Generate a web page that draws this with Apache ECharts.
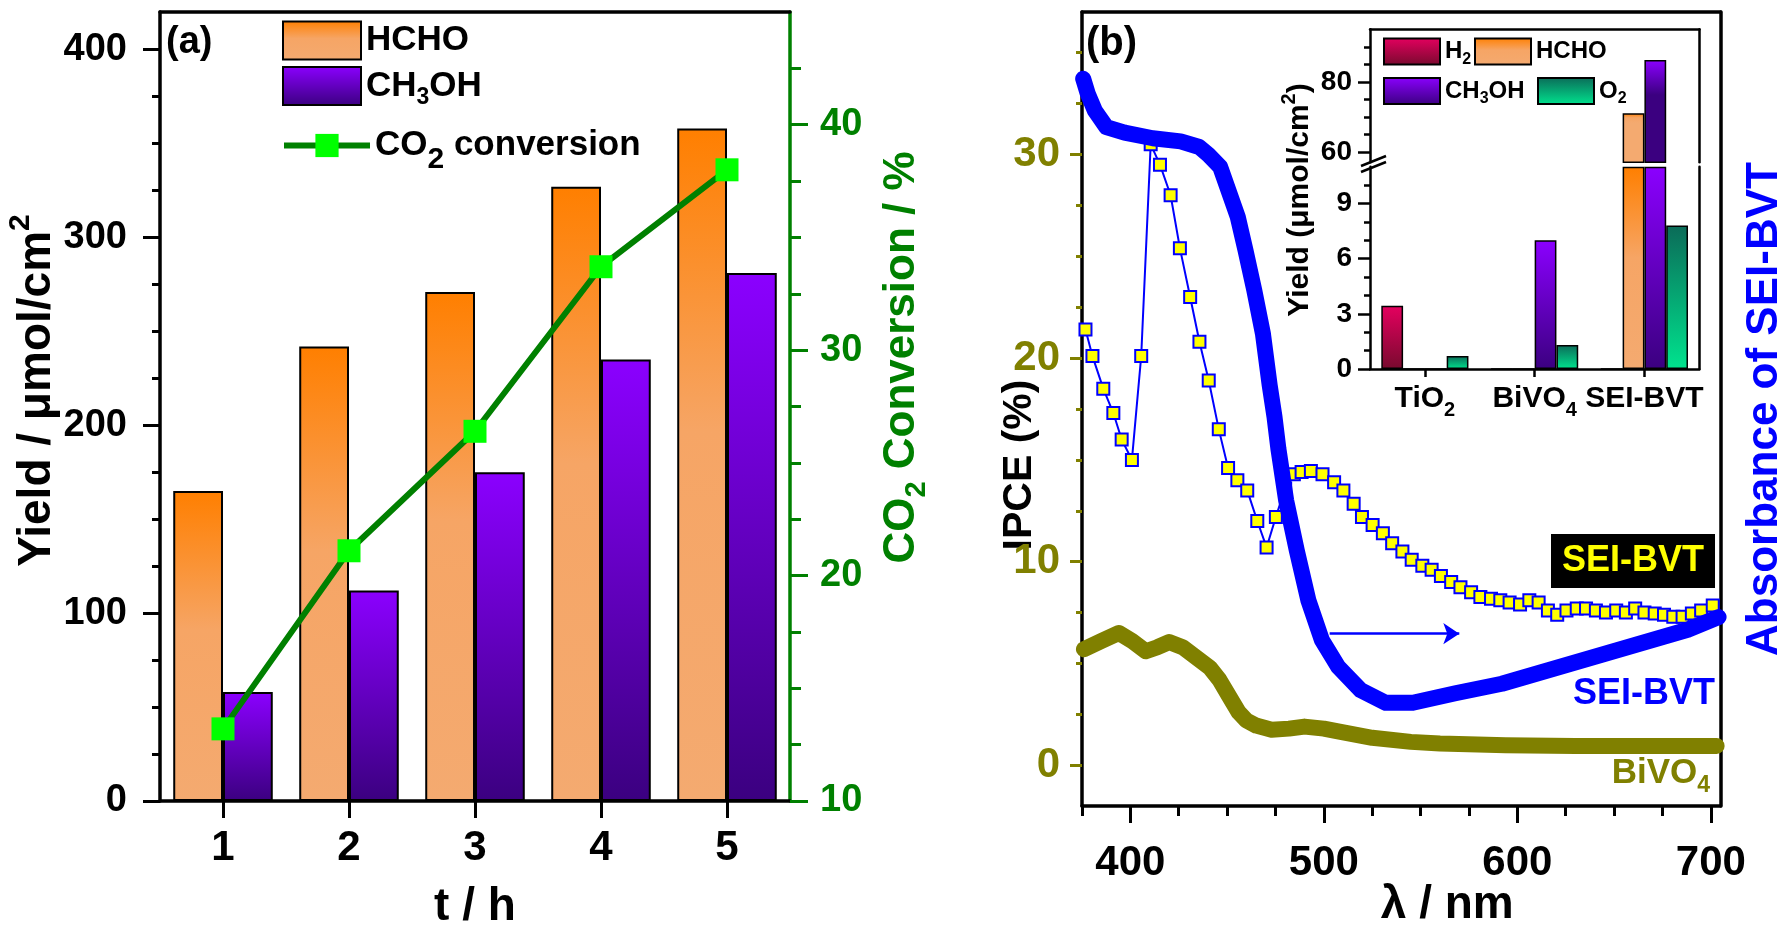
<!DOCTYPE html>
<html lang="en" style="height: 100%">
<head>
  <meta charset="utf-8">
</head>
<body style="height: 100%; margin: 0; background: #fff">
  <div id="container" style="width: 1788px; height: 928px"></div>
  <script type="text/javascript" src="https://fastly.jsdelivr.net/npm/echarts@6/dist/echarts.min.js"></script>
  <script type="text/javascript">
    // ---- panel (a) ----
    var hours = ['1', '2', '3', '4', '5'];
    var hchoYield = [165, 242, 271, 327, 358];
    var ch3ohYield = [58, 112, 175, 235, 281];
    var co2Conversion = [13.2, 21.1, 26.4, 33.7, 38.0];
    var yieldTicks = [0, 100, 200, 300, 400];
    var yieldMinor = [25, 50, 75, 125, 150, 175, 225, 250, 275, 325, 350, 375];
    var convTicks = [10, 20, 30, 40];
    var convMinor = [12.5, 15, 17.5, 22.5, 25, 27.5, 32.5, 35, 37.5, 42.5];

    // ---- panel (b) ----
    var ipceSEI = [
      [376.8, 21.4], [380.4, 20.1], [386, 18.5], [391.2, 17.3], [395.5, 16.0], [400.8, 15.0],
      [405.6, 20.1], [410.5, 30.5], [415.3, 29.5], [420.8, 28.0], [425.6, 25.4], [430.9, 23.0],
      [435.7, 20.8], [440.5, 18.9], [445.7, 16.5], [450.5, 14.6], [455.3, 14.0], [460.4, 13.5],
      [465.6, 12.0], [470.4, 10.7], [475.2, 12.2], [480, 13.6], [484.5, 14.3], [488.5, 14.4],
      [493.3, 14.45], [499.3, 14.3], [505.3, 13.9], [510.1, 13.5], [515.4, 12.85], [519.7, 12.2],
      [525.2, 11.8], [530.5, 11.4], [535.3, 10.9], [540.6, 10.5], [545.4, 10.1], [550.9, 9.8],
      [555.7, 9.6], [560.5, 9.3], [565.8, 9.0], [570.6, 8.75], [576.1, 8.5], [580.9, 8.26],
      [586.4, 8.18], [591.2, 8.1], [596, 8.0], [601.4, 7.9], [606.2, 8.1], [611, 8.0],
      [615.8, 7.6], [620.6, 7.4], [625.4, 7.6], [630.7, 7.7], [635.5, 7.7], [640.6, 7.6],
      [645.8, 7.5], [651.1, 7.6], [656.1, 7.5], [660.9, 7.7], [665.7, 7.5], [671, 7.45],
      [675.8, 7.4], [680.6, 7.3], [685.4, 7.3], [690.2, 7.45], [695, 7.6], [701, 7.85]
    ];
    var ipceBiVO4 = [
      [376, 5.7], [385, 6.1], [394, 6.5], [401, 6.1], [408, 5.6], [414, 5.8], [420, 6.05],
      [427, 5.8], [434, 5.3], [441, 4.8], [446, 4.2], [451, 3.4], [456, 2.6], [460, 2.2],
      [465, 1.95], [473, 1.75], [482, 1.8], [490, 1.9], [500, 1.8], [508, 1.65], [525, 1.35],
      [545, 1.15], [560, 1.07], [594, 0.98], [630, 0.95], [660, 0.95], [690, 0.95], [703, 0.95]
    ];
    var absSEI = [
      [375.6, 0.916], [378, 0.897], [381.6, 0.876], [387.6, 0.855], [397, 0.848], [411.6, 0.841],
      [426, 0.837], [435.6, 0.83], [440.4, 0.82], [446.4, 0.805], [450, 0.78], [455.5, 0.742],
      [459.5, 0.70], [464, 0.65], [468.5, 0.595], [472, 0.53], [474.5, 0.49], [476.5, 0.45],
      [480.5, 0.385], [486, 0.322], [492, 0.259], [499, 0.209], [507.5, 0.175], [519, 0.146],
      [532, 0.13], [546, 0.13], [568, 0.142], [592, 0.154], [616, 0.171], [640, 0.188],
      [664, 0.205], [688, 0.222], [704, 0.238]
    ];
    var arrowNm = [503, 570];
    var arrowAbs = 0.217;
    var nmTicks = [400, 500, 600, 700];
    var nmMinor = [375, 425, 450, 475, 525, 550, 575, 625, 650, 675];
    var ipceTicks = [0, 10, 20, 30];
    var ipceMinor = [2.5, 5, 7.5, 12.5, 15, 17.5, 22.5, 25, 27.5, 32.5, 35];

    // ---- inset ----
    var insetCats = ['TiO2', 'BiVO4', 'SEI-BVT'];
    var insetH2 = [3.44, 0, 0];
    var insetHCHO = [0, 0, 71];
    var insetCH3OH = [0, 7.0, 86.2];
    var insetO2 = [0.71, 1.31, 7.8];
    var insetLowTicks = [0, 3, 6, 9];
    var insetLowMinor = [1, 2, 4, 5, 7, 8, 10];
    var insetHighTicks = [60, 80];
    var insetHighMinor = [65, 70, 75, 85, 90];
    var insetLow = [0, 11];
    var insetHigh = [57, 95];

    var FF = '"Liberation Sans", Arial, sans-serif';
    var OLIVE = '#808000', BLUE = '#0000FF', GREEN = '#008000';

    var hchoStops = [[0, '#FF7F00'], [0.45, '#F6A565'], [1, '#F4AA70']];
    var ch3ohStops = [[0, '#8B00FF'], [1, '#3B0080']];
    var h2Stops = [[0, '#E5005F'], [1, '#780A2E']];
    var o2Stops = [[0, '#0B6B58'], [1, '#00E38E']];

    function vgrad(stops) {
      return new echarts.graphic.LinearGradient(0, 0, 0, 1, stops.map(function (s) {
        return { offset: s[0], color: s[1] };
      }));
    }
    // gradient squeezed into the part of the bar that shows above the axis break
    function clipGrad(stops, v, lo) {
      var f = v > lo ? (v - lo) / v : 1;
      return vgrad(stops.map(function (s) { return [s[0] * f, s[1]]; }));
    }

    function rich(size, color, subScale, subDrop, zr) {
      var fs2 = Math.round(size * subScale);
      var L = fs2 + 2 * Math.round(size * subDrop);
      function st(o) {
        o.fontFamily = FF; o.fontWeight = 'bold';
        if (zr) o.fill = color; else o.color = color;
        return o;
      }
      return {
        n: st({ fontSize: size, lineHeight: L, verticalAlign: 'middle' }),
        sub: st({ fontSize: fs2, lineHeight: fs2, verticalAlign: 'bottom' }),
        sup: st({ fontSize: fs2, lineHeight: fs2, verticalAlign: 'top' })
      };
    }

    var legendLabel = {
      'HCHO': '{n|HCHO}',
      'CH3OH': '{n|CH}{sub|3}{n|OH}',
      'CO2 conversion': '{n|CO}{sub|2}{n| conversion}',
      'H2': '{n|H}{sub|2}',
      'HCHO (inset)': '{n|HCHO}',
      'CH3OH (inset)': '{n|CH}{sub|3}{n|OH}',
      'O2': '{n|O}{sub|2}'
    };
    var insetLabel = { 'TiO2': '{n|TiO}{sub|2}', 'BiVO4': '{n|BiVO}{sub|4}', 'SEI-BVT': '{n|SEI-BVT}' };

    function legendItem(name, left, top, w, h, r, isBar) {
      var o = {
        data: [isBar ? { name: name, icon: 'rect' } : name],
        left: left, top: top, itemWidth: w, itemHeight: h, padding: 0,
        selectedMode: false,
        formatter: function (n) { return legendLabel[n]; },
        textStyle: { rich: r }
      };
      if (isBar) o.itemStyle = { borderColor: '#000', borderWidth: 2 };
      else o.lineStyle = { width: 6, color: GREEN };
      return o;
    }

    function lbl(size, color, margin) {
      return { show: true, fontSize: size, fontWeight: 'bold', fontFamily: FF, color: color, margin: margin };
    }
    function lineOnly(color, w) {
      return { show: true, onZero: false, lineStyle: { color: color, width: w } };
    }
    function ticks(len, values, color, w) {
      return { show: true, inside: false, length: len, customValues: values, lineStyle: { width: w, color: color } };
    }
    var noLine = { show: false, onZero: false };
    var off = { show: false };

    var dom = document.getElementById('container');
    var myChart = echarts.init(dom, null, { renderer: 'canvas' });

    var option = {
      animation: false,
      backgroundColor: '#fff',
      textStyle: { fontFamily: FF },
      grid: [
        { left: 160, top: 12, width: 630, height: 789, outerBoundsMode: 'none' },
        { left: 1082, top: 12, width: 638.5, height: 794, outerBoundsMode: 'none' },
        { left: 1370, top: 166.7, width: 329.3, height: 202.3, outerBoundsMode: 'none' },
        { left: 1370, top: 29.3, width: 329.3, height: 133, outerBoundsMode: 'none' }
      ],
      legend: [
        legendItem('HCHO', 282, 20.5, 78, 38, rich(35, '#000', 0.65, 0.35), true),
        legendItem('CH3OH', 282, 66, 78, 38, rich(35, '#000', 0.65, 0.35), true),
        legendItem('CO2 conversion', 281, 128, 86, 29, rich(35, '#000', 0.86, 0.4), false),
        legendItem('H2', 1383, 37.5, 56, 26, rich(24, '#000', 0.65, 0.35), true),
        legendItem('HCHO (inset)', 1474, 37.5, 56, 26, rich(24, '#000', 0.65, 0.35), true),
        legendItem('CH3OH (inset)', 1383, 77, 56, 26, rich(24, '#000', 0.65, 0.35), true),
        legendItem('O2', 1537, 77, 56, 26, rich(24, '#000', 0.65, 0.35), true)
      ],
      xAxis: [
        { // 0: panel a bottom
          gridIndex: 0, type: 'category', data: hours, position: 'bottom',
          axisLine: lineOnly('#000', 3.5),
          axisTick: { show: true, inside: false, alignWithLabel: true, length: 17, lineStyle: { width: 3, color: '#000' } },
          axisLabel: lbl(42, '#000', 26),
          name: 't / h', nameLocation: 'middle', nameGap: 83, nameMoveOverlap: false,
          nameTextStyle: { fontSize: 46, fontWeight: 'bold', fontFamily: FF, color: '#000' }
        },
        { // 1: panel a top border
          gridIndex: 0, type: 'category', data: hours, position: 'top',
          axisLine: lineOnly('#000', 3.5), axisTick: off, axisLabel: off
        },
        { // 2: panel b bottom
          gridIndex: 1, type: 'value', min: 375, max: 705, position: 'bottom',
          axisLine: lineOnly('#000', 3.5),
          axisTick: ticks(17, nmTicks, '#000', 3),
          axisLabel: Object.assign({ customValues: nmTicks }, lbl(42, '#000', 36)),
          splitLine: off,
          name: 'λ / nm', nameLocation: 'middle', nameGap: 76, nameMoveOverlap: false,
          nameTextStyle: { fontSize: 46, fontWeight: 'bold', fontFamily: FF, color: '#000', padding: [0, 0, 0, 92] }
        },
        { // 3: panel b minor ticks
          gridIndex: 1, type: 'value', min: 375, max: 705, position: 'bottom',
          axisLine: noLine, axisTick: ticks(10, nmMinor, '#000', 3),
          axisLabel: off, splitLine: off
        },
        { // 4: panel b top border
          gridIndex: 1, type: 'value', min: 375, max: 705, position: 'top',
          axisLine: lineOnly('#000', 3.5), axisTick: off, axisLabel: off, splitLine: off
        },
        { // 5: inset bottom
          gridIndex: 2, type: 'category', data: insetCats, position: 'bottom',
          axisLine: lineOnly('#000', 2.5),
          axisTick: { show: true, inside: false, alignWithLabel: true, length: 8, lineStyle: { width: 2.5, color: '#000' } },
          axisLabel: {
            show: true, margin: 9,
            formatter: function (v) { return insetLabel[v]; },
            rich: rich(30, '#000', 0.65, 0.35)
          }
        },
        { // 6: inset top
          gridIndex: 3, type: 'category', data: insetCats, position: 'top',
          axisLine: lineOnly('#000', 2.5), axisTick: off, axisLabel: off
        }
      ],
      yAxis: [
        { // 0: yield
          gridIndex: 0, type: 'value', min: 0, max: 420, position: 'left',
          axisLine: lineOnly('#000', 3.5),
          axisTick: ticks(17, yieldTicks, '#000', 3),
          axisLabel: Object.assign({ customValues: yieldTicks }, lbl(38, '#000', 33)),
          splitLine: off,
          name: '{n|Yield / μmol/cm}{sup|2}', nameLocation: 'middle', nameRotate: 90, nameGap: 92,
          nameMoveOverlap: false,
          nameTextStyle: { rich: rich(46, '#000', 0.65, 0.35), padding: [0, 0, 0, 32] }
        },
        { // 1: CO2 conversion
          gridIndex: 0, type: 'value', min: 10, max: 45, position: 'right',
          axisLine: lineOnly(GREEN, 3.5),
          axisTick: ticks(18, convTicks, GREEN, 3),
          axisLabel: Object.assign({ customValues: convTicks }, lbl(38, GREEN, 30)),
          splitLine: off,
          name: '{n|CO}{sub|2}{n| Conversion / %}', nameLocation: 'middle', nameRotate: 90, nameGap: 82,
          nameMoveOverlap: false,
          nameTextStyle: { rich: rich(44, GREEN, 0.65, 0.35), padding: [0, 0, 0, 98] }
        },
        { // 2: yield minor
          gridIndex: 0, type: 'value', min: 0, max: 420, position: 'left',
          axisLine: noLine, axisTick: ticks(8, yieldMinor, '#000', 3),
          axisLabel: off, splitLine: off
        },
        { // 3: conversion minor
          gridIndex: 0, type: 'value', min: 10, max: 45, position: 'right',
          axisLine: noLine, axisTick: ticks(11, convMinor, GREEN, 3),
          axisLabel: off, splitLine: off
        },
        { // 4: IPCE
          gridIndex: 1, type: 'value', min: -2, max: 37, position: 'left',
          axisLine: lineOnly('#000', 3.5),
          axisTick: ticks(12, ipceTicks, OLIVE, 3),
          axisLabel: Object.assign({ customValues: ipceTicks }, lbl(42, OLIVE, 22)),
          splitLine: off,
          name: 'IPCE (%)', nameLocation: 'middle', nameRotate: 90, nameGap: 42, nameMoveOverlap: false,
          nameTextStyle: { fontSize: 41, fontWeight: 'bold', fontFamily: FF, color: '#000', padding: [0, 112, 0, 0] }
        },
        { // 5: IPCE minor
          gridIndex: 1, type: 'value', min: -2, max: 37, position: 'left',
          axisLine: noLine, axisTick: ticks(6, ipceMinor, OLIVE, 3),
          axisLabel: off, splitLine: off
        },
        { // 6: absorbance
          gridIndex: 1, type: 'value', min: 0, max: 1, position: 'right',
          axisLine: lineOnly('#000', 3.5), axisTick: off, axisLabel: off, splitLine: off,
          name: 'Absorbance of SEI-BVT', nameLocation: 'middle', nameRotate: 90, nameGap: 22,
          nameMoveOverlap: false,
          nameTextStyle: { fontSize: 44, fontWeight: 'bold', fontFamily: FF, color: BLUE }
        },
        { // 7: inset lower
          gridIndex: 2, type: 'value', min: insetLow[0], max: insetLow[1], position: 'left',
          axisLine: lineOnly('#000', 2.5),
          axisTick: ticks(12, insetLowTicks, '#000', 2.5),
          axisLabel: Object.assign({ customValues: insetLowTicks }, lbl(28, '#000', 18)),
          splitLine: off
        },
        { // 8: inset lower minor
          gridIndex: 2, type: 'value', min: insetLow[0], max: insetLow[1], position: 'left',
          axisLine: noLine, axisTick: ticks(6, insetLowMinor, '#000', 2.5),
          axisLabel: off, splitLine: off
        },
        { // 9: inset lower right border
          gridIndex: 2, type: 'value', min: insetLow[0], max: insetLow[1], position: 'right',
          axisLine: lineOnly('#000', 2.5), axisTick: off, axisLabel: off, splitLine: off
        },
        { // 10: inset upper
          gridIndex: 3, type: 'value', min: insetHigh[0], max: insetHigh[1], position: 'left',
          axisLine: lineOnly('#000', 2.5),
          axisTick: ticks(12, insetHighTicks, '#000', 2.5),
          axisLabel: Object.assign({ customValues: insetHighTicks }, lbl(28, '#000', 18)),
          splitLine: off
        },
        { // 11: inset upper minor
          gridIndex: 3, type: 'value', min: insetHigh[0], max: insetHigh[1], position: 'left',
          axisLine: noLine, axisTick: ticks(6, insetHighMinor, '#000', 2.5),
          axisLabel: off, splitLine: off
        },
        { // 12: inset upper right border
          gridIndex: 3, type: 'value', min: insetHigh[0], max: insetHigh[1], position: 'right',
          axisLine: lineOnly('#000', 2.5), axisTick: off, axisLabel: off, splitLine: off
        }
      ],
      series: [
        {
          name: 'HCHO', type: 'bar', xAxisIndex: 0, yAxisIndex: 0, data: hchoYield,
          barGap: '0%', barCategoryGap: '21%',
          itemStyle: { color: vgrad(hchoStops), borderColor: '#000', borderWidth: 2 }
        },
        {
          name: 'CH3OH', type: 'bar', xAxisIndex: 0, yAxisIndex: 0, data: ch3ohYield,
          barGap: '0%', barCategoryGap: '21%',
          itemStyle: { color: vgrad(ch3ohStops), borderColor: '#000', borderWidth: 2 }
        },
        {
          name: 'CO2 conversion', type: 'line', xAxisIndex: 0, yAxisIndex: 1, data: co2Conversion,
          symbol: 'rect', symbolSize: 23,
          itemStyle: { color: '#00FF00' },
          lineStyle: { color: GREEN, width: 6 }
        },
        {
          name: 'BiVO4 IPCE', type: 'line', xAxisIndex: 2, yAxisIndex: 4, data: ipceBiVO4,
          showSymbol: false, symbol: 'none', z: 2,
          lineStyle: { color: OLIVE, width: 16, cap: 'round', join: 'round' }
        },
        {
          name: 'SEI-BVT IPCE', type: 'line', xAxisIndex: 2, yAxisIndex: 4, data: ipceSEI,
          symbol: 'rect', symbolSize: 12, z: 3,
          itemStyle: { color: '#FFFF00', borderColor: BLUE, borderWidth: 2 },
          lineStyle: { color: BLUE, width: 2 }
        },
        {
          name: 'SEI-BVT absorbance', type: 'line', xAxisIndex: 2, yAxisIndex: 6, data: absSEI,
          showSymbol: false, symbol: 'none', z: 4,
          lineStyle: { color: BLUE, width: 16, cap: 'round', join: 'round' },
          markLine: {
            silent: true, symbol: ['none', 'arrow'], symbolSize: 16,
            label: { show: false },
            lineStyle: { color: BLUE, width: 2.5, type: 'solid' },
            data: [[{ coord: [arrowNm[0], arrowAbs] }, { coord: [arrowNm[1], arrowAbs] }]]
          }
        },
        // inset, lower part of the broken axis
        {
          name: 'H2', type: 'bar', xAxisIndex: 5, yAxisIndex: 7, barGap: '0%', barCategoryGap: '20.6%',
          data: insetH2.map(function (v) { return Math.min(v, insetLow[1]); }),
          itemStyle: { color: vgrad(h2Stops), borderColor: '#000', borderWidth: 1.5 }
        },
        {
          name: 'HCHO (inset)', type: 'bar', xAxisIndex: 5, yAxisIndex: 7, barGap: '0%', barCategoryGap: '20.6%',
          data: insetHCHO.map(function (v) { return Math.min(v, insetLow[1]); }),
          itemStyle: { color: vgrad(hchoStops), borderColor: '#000', borderWidth: 1.5 }
        },
        {
          name: 'CH3OH (inset)', type: 'bar', xAxisIndex: 5, yAxisIndex: 7, barGap: '0%', barCategoryGap: '20.6%',
          data: insetCH3OH.map(function (v) { return Math.min(v, insetLow[1]); }),
          itemStyle: { color: vgrad(ch3ohStops), borderColor: '#000', borderWidth: 1.5 }
        },
        {
          name: 'O2', type: 'bar', xAxisIndex: 5, yAxisIndex: 7, barGap: '0%', barCategoryGap: '20.6%',
          data: insetO2.map(function (v) { return Math.min(v, insetLow[1]); }),
          itemStyle: { color: vgrad(o2Stops), borderColor: '#000', borderWidth: 1.5 }
        },
        // inset, upper part of the broken axis
        {
          name: 'H2', type: 'bar', xAxisIndex: 6, yAxisIndex: 10, barGap: '0%', barCategoryGap: '20.6%', clip: true,
          data: insetH2.map(function (v) { return { value: v, itemStyle: { color: clipGrad(h2Stops, v, insetHigh[0]) } }; }),
          itemStyle: { borderColor: '#000', borderWidth: 1.5 }
        },
        {
          name: 'HCHO (inset)', type: 'bar', xAxisIndex: 6, yAxisIndex: 10, barGap: '0%', barCategoryGap: '20.6%', clip: true,
          data: insetHCHO.map(function (v) { return { value: v, itemStyle: { color: clipGrad(hchoStops, v, insetHigh[0]) } }; }),
          itemStyle: { borderColor: '#000', borderWidth: 1.5 }
        },
        {
          name: 'CH3OH (inset)', type: 'bar', xAxisIndex: 6, yAxisIndex: 10, barGap: '0%', barCategoryGap: '20.6%', clip: true,
          data: insetCH3OH.map(function (v) { return { value: v, itemStyle: { color: clipGrad(ch3ohStops, v, insetHigh[0]) } }; }),
          itemStyle: { borderColor: '#000', borderWidth: 1.5 }
        },
        {
          name: 'O2', type: 'bar', xAxisIndex: 6, yAxisIndex: 10, barGap: '0%', barCategoryGap: '20.6%', clip: true,
          data: insetO2.map(function (v) { return { value: v, itemStyle: { color: clipGrad(o2Stops, v, insetHigh[0]) } }; }),
          itemStyle: { borderColor: '#000', borderWidth: 1.5 }
        }
      ],
      graphic: [
        { type: 'text', x: 166, y: 24, style: { text: '(a)', font: 'bold 38px ' + FF, fill: '#000' } },
        { type: 'text', x: 1086, y: 24, style: { text: '(b)', font: 'bold 40px ' + FF, fill: '#000' } },
        {
          type: 'text', x: 1551, y: 534, z: 10,
          style: { text: 'SEI-BVT', font: 'bold 36px ' + FF, fill: '#FFFF00', backgroundColor: '#000', padding: [9, 11, 9, 11] }
        },
        { type: 'text', x: 1715, y: 676, style: { text: 'SEI-BVT', font: 'bold 36px ' + FF, fill: BLUE, align: 'right' } },
        {
          type: 'text', x: 1710, y: 750,
          style: { text: '{n|BiVO}{sub|4}', rich: rich(35, OLIVE, 0.65, 0.35, true), align: 'right' }
        },
        {
          type: 'text', x: 1300, y: 200, rotation: Math.PI / 2,
          style: { text: '{n|Yield (μmol/cm}{sup|2}{n|)}', rich: rich(30, '#000', 0.65, 0.35, true), align: 'center', verticalAlign: 'middle' }
        },
        { type: 'line', shape: { x1: 1361, y1: 172, x2: 1386, y2: 162 }, style: { stroke: '#000', lineWidth: 2.5 } },
        { type: 'line', shape: { x1: 1361, y1: 166, x2: 1386, y2: 156 }, style: { stroke: '#000', lineWidth: 2.5 } }
      ]
    };

    myChart.setOption(option);
    window.addEventListener('resize', myChart.resize);
  </script>
</body>
</html>
